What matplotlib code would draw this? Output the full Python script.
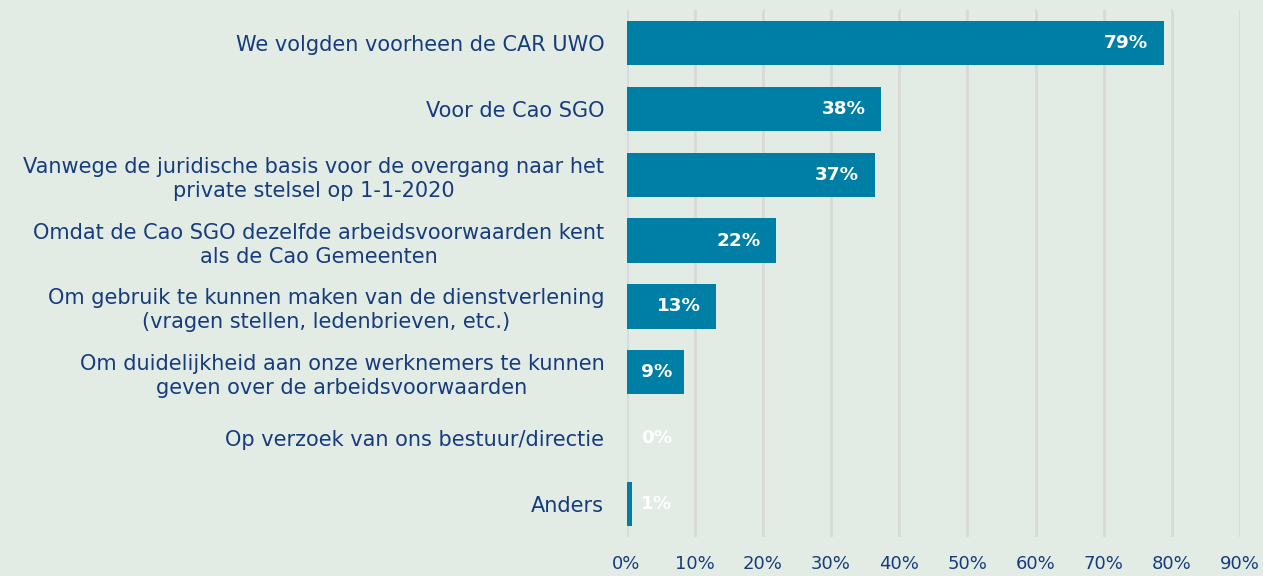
import matplotlib
matplotlib.use('Agg')
import matplotlib.pyplot as plt
from matplotlib.ticker import FuncFormatter

categories = [
    "We volgden voorheen de CAR UWO",
    "Voor de Cao SGO",
    "Vanwege de juridische basis voor de overgang naar het\nprivate stelsel op 1-1-2020",
    "Omdat de Cao SGO dezelfde arbeidsvoorwaarden kent\nals de Cao Gemeenten",
    "Om gebruik te kunnen maken van de dienstverlening\n(vragen stellen, ledenbrieven, etc.)",
    "Om duidelijkheid aan onze werknemers te kunnen\ngeven over de arbeidsvoorwaarden",
    "Op verzoek van ons bestuur/directie",
    "Anders",
]
values = [78.8, 37.3, 36.4, 21.9, 13.2, 8.4, 0.0, 0.8]
value_labels = ["79%", "38%", "37%", "22%", "13%", "9%", "0%", "1%"]
xticks = [0, 10, 20, 30, 40, 50, 60, 70, 80, 90]

bg = "#e2ece5"
bar_color = "#007fa6"
text_color = "#163c7c"
grid_color = "#d9d9d9"

plt.rcParams['font.family'] = ['DejaVu Sans']

fig = plt.figure(figsize=(12.63, 5.76), dpi=100, facecolor=bg)
ax = fig.add_axes([626.5 / 1263, 39 / 576, (1240 - 626.5) / 1263, 527 / 576])
ax.set_facecolor(bg)

ypos = list(range(len(categories)))
ax.barh(ypos, values, height=0.67, color=bar_color, zorder=3)

# small bars get their label at a fixed minimum spot
for y, v, lab in zip(ypos, values, value_labels):
    ax.annotate(lab, xy=(max(v, 8.9), y), xytext=(-11, 0), textcoords='offset points',
                ha='right', va='center', color='white', fontsize=13.2,
                fontweight='bold', zorder=4)

ax.set_ylim(len(categories) - 0.5, -0.5)
ax.set_xlim(0, 90)
ax.set_xticks(xticks)
ax.xaxis.set_major_formatter(FuncFormatter(lambda x, p: f"{int(x)}%"))
ax.set_yticks(ypos)
ax.set_yticklabels(categories, ha='right', multialignment='center', linespacing=1.25)

ax.grid(axis='x', color=grid_color, linewidth=2, zorder=0)
for s in ax.spines.values():
    s.set_visible(False)
ax.tick_params(axis='y', length=0, colors=text_color, labelsize=15, pad=16)
ax.tick_params(axis='x', length=0, colors=text_color, labelsize=13, pad=13)

fig.savefig("out.png", dpi=100, facecolor=bg)
